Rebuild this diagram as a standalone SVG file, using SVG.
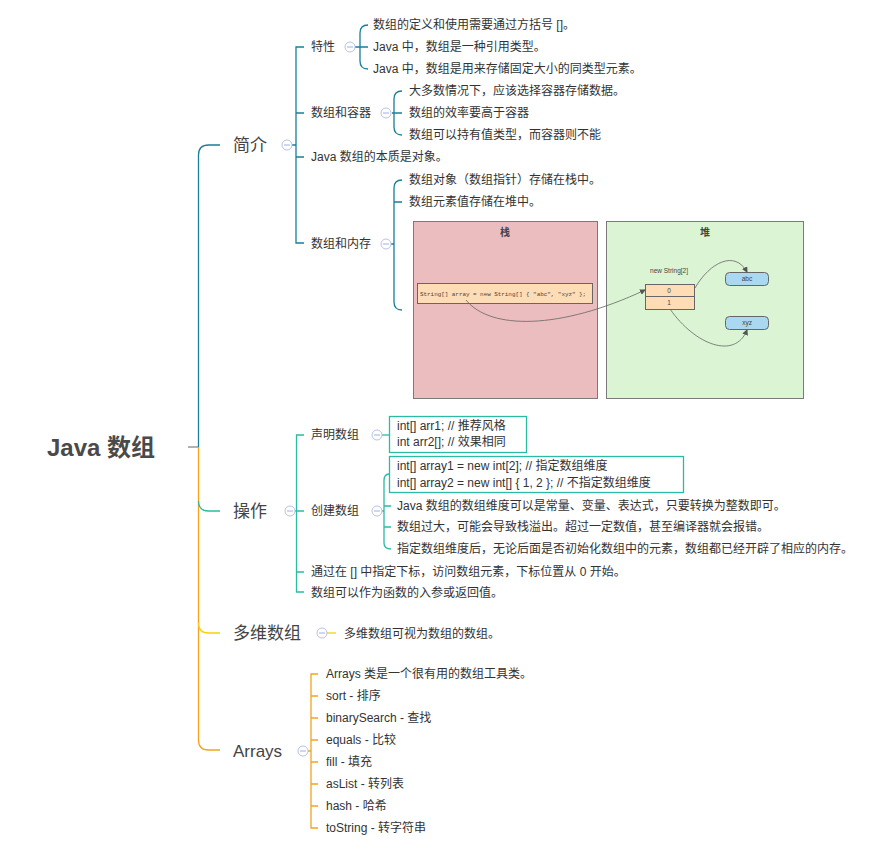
<svg xmlns="http://www.w3.org/2000/svg" width="879" height="854" viewBox="0 0 879 854">
<style>
text{font-family:"Liberation Sans","Noto Sans CJK SC",sans-serif;fill:#333;}
.t{font-size:12px;}
.l1{font-size:17px;fill:#444;}
.root{font-size:24px;font-weight:bold;fill:#4a4a4a;}
.c1{fill:none;stroke:#177f98;stroke-width:1.3;}
.c2{fill:none;stroke:#2bbba3;stroke-width:1.3;}
.cy{fill:none;stroke:#f3d20c;stroke-width:1.3;}
.co{fill:none;stroke:#f5a31f;stroke-width:1.3;}
.col circle{fill:#fff;stroke:#b7c3e6;stroke-width:1;}
.col line{stroke:#9fb0da;stroke-width:1;}
.box{fill:#fff;stroke:#2bbba3;stroke-width:1.3;}
.small{font-size:6.5px;fill:#444;}
.code{font-family:"Liberation Mono",monospace;font-size:5.9px;fill:#444;}
</style>
<defs>
<marker id="ah" markerWidth="6" markerHeight="6" refX="5" refY="3" orient="auto" markerUnits="userSpaceOnUse"><path d="M0,0 L6,3 L0,6 Z" fill="#555"/></marker>
<g id="minus" class="col"><circle r="5"/><line x1="-3" y1="0" x2="3" y2="0"/></g>
</defs>

<g id="connectors">
<path d="M188,447 H198.5" stroke="#888" stroke-width="1.3" fill="none"/>
<path class="c1" d="M198.5,447 V155 Q198.5,145 208.5,145 H220"/>
<path class="co" d="M198.5,447 V740 Q198.5,750 208.5,750 H220"/>
<path class="c2" d="M198.5,501 Q198.5,511 208.5,511 H220"/>
<path class="cy" d="M198.5,623 Q198.5,633 208.5,633 H220"/>
<!-- 简介 -->
<path class="c1" d="M292,145 H296 M304,47 H296 V243 H304 M296,113 H304 M296,157 H304"/>
<path class="c1" d="M355,47 H360 M368,25 Q360,25 360,33 V61 Q360,69 368,69 M360,47 H368"/>
<path class="c1" d="M392,113 H394 M402,91 Q394,91 394,99 V127 Q394,135 402,135 M394,113 H402"/>
<path class="c1" d="M391,244 H394 M402,180 Q394,180 394,188 V302 Q394,310 402,310 M394,202 H402"/>
<!-- 操作 -->
<path class="c2" d="M295,511 H296.5 M304,435 H296.5 V592 H304 M296.5,511 H304 M296.5,572 H304"/>
<path class="c2" d="M382,435 H389"/>
<path class="c2" d="M382,511 H384 M389,474 Q384,474 384,481 V543 Q384,549 391,549 M384,506 H391 M384,527 H391"/>
<!-- 多维数组 -->
<path class="cy" d="M327,633 H336"/>
<!-- Arrays -->
<path class="co" d="M308,751 H311 M318,674 H311 V828 H318 M311,696 H318 M311,718 H318 M311,740 H318 M311,762 H318 M311,784 H318 M311,806 H318"/>
</g>

<g id="root"><text class="root" x="47" y="456">Java 数组</text></g>

<g id="jianjie">
<text class="l1" x="233" y="151">简介</text>
<use href="#minus" x="287" y="145"/>
</g>
<g id="texing">
<text class="t" x="311" y="51">特性</text>
<use href="#minus" x="350" y="47"/>
<text class="t" x="373" y="29">数组的定义和使用需要通过方括号 []。</text>
<text class="t" x="373" y="51">Java 中，数组是一种引用类型。</text>
<text class="t" x="373" y="73">Java 中，数组是用来存储固定大小的同类型元素。</text>
</g>
<g id="rongqi">
<text class="t" x="311" y="117">数组和容器</text>
<use href="#minus" x="386" y="113"/>
<text class="t" x="409" y="95">大多数情况下，应该选择容器存储数据。</text>
<text class="t" x="409" y="117">数组的效率要高于容器</text>
<text class="t" x="409" y="139">数组可以持有值类型，而容器则不能</text>
</g>
<g id="benzhi"><text class="t" x="311" y="161">Java 数组的本质是对象。</text></g>
<g id="neicun">
<text class="t" x="311" y="248">数组和内存</text>
<use href="#minus" x="386" y="244"/>
<text class="t" x="409" y="184">数组对象（数组指针）存储在栈中。</text>
<text class="t" x="409" y="206">数组元素值存储在堆中。</text>
</g>
<g id="memory-figure">
<rect x="413.5" y="221.5" width="184" height="177" fill="#ebbdbe" stroke="#7a7a7a"/>
<rect x="606.5" y="221.5" width="197" height="177" fill="#dbf4d3" stroke="#7a7a7a"/>
<text x="505" y="236" text-anchor="middle" style="font-size:10px;font-weight:bold;fill:#444">栈</text>
<text x="705" y="236" text-anchor="middle" style="font-size:10px;font-weight:bold;fill:#444">堆</text>
<rect x="417.5" y="283.5" width="175" height="20" fill="#fddcb6" stroke="#666"/>
<text class="code" x="420" y="296">String[] array = new String[] { "abc", "xyz" };</text>
<text class="small" x="669" y="273" text-anchor="middle">new String[2]</text>
<rect x="645.5" y="284.5" width="49" height="12" fill="#fddcb6" stroke="#666"/>
<rect x="645.5" y="296.5" width="49" height="13" fill="#fddcb6" stroke="#666"/>
<text class="small" x="669" y="293" text-anchor="middle">0</text>
<text class="small" x="669" y="305" text-anchor="middle">1</text>
<rect x="725.5" y="272.5" width="43" height="13" rx="4" fill="#a9d8f0" stroke="#666"/>
<rect x="725.5" y="316.5" width="43" height="13" rx="4" fill="#a9d8f0" stroke="#666"/>
<text class="small" x="747" y="281" text-anchor="middle">abc</text>
<text class="small" x="747" y="325" text-anchor="middle">xyz</text>
<g fill="none" stroke="#666" stroke-width="0.8" marker-end="url(#ah)">
<path d="M466,300 C490,330 560,330 645,290"/>
<path d="M695,288 C710,262 735,250 747,272"/>
<path d="M670,309 C695,345 735,360 747,330"/>
</g>
</g>

<g id="caozuo">
<text class="l1" x="233" y="517">操作</text>
<use href="#minus" x="290" y="511"/>
</g>
<g id="shengming">
<text class="t" x="311" y="439">声明数组</text>
<use href="#minus" x="377" y="435"/>
<rect class="box" x="389.5" y="416.5" width="137" height="36"/>
<text class="t" x="397" y="430">int[] arr1; // 推荐风格</text>
<text class="t" x="397" y="446">int arr2[]; // 效果相同</text>
</g>
<g id="chuangjian">
<text class="t" x="311" y="515">创建数组</text>
<use href="#minus" x="377" y="511"/>
<rect class="box" x="389.5" y="456.5" width="294" height="36"/>
<text class="t" x="397" y="470">int[] array1 = new int[2]; // 指定数组维度</text>
<text class="t" x="397" y="487">int[] array2 = new int[] { 1, 2 }; // 不指定数组维度</text>
<text class="t" x="397" y="510">Java 数组的数组维度可以是常量、变量、表达式，只要转换为整数即可。</text>
<text class="t" x="397" y="531">数组过大，可能会导致栈溢出。超过一定数值，甚至编译器就会报错。</text>
<text class="t" x="397" y="553">指定数组维度后，无论后面是否初始化数组中的元素，数组都已经开辟了相应的内存。</text>
</g>
<g id="xiabiao"><text class="t" x="311" y="576">通过在 [] 中指定下标，访问数组元素，下标位置从 0 开始。</text></g>
<g id="rucan"><text class="t" x="311" y="597">数组可以作为函数的入参或返回值。</text></g>

<g id="duowei">
<text class="l1" x="233" y="639">多维数组</text>
<use href="#minus" x="322" y="633"/>
<text class="t" x="344" y="638">多维数组可视为数组的数组。</text>
</g>

<g id="arrays">
<text class="l1" x="233" y="757">Arrays</text>
<use href="#minus" x="303" y="751"/>
<text class="t" x="326" y="678">Arrays 类是一个很有用的数组工具类。</text>
<text class="t" x="326" y="700">sort - 排序</text>
<text class="t" x="326" y="722">binarySearch - 查找</text>
<text class="t" x="326" y="744">equals - 比较</text>
<text class="t" x="326" y="766">fill - 填充</text>
<text class="t" x="326" y="788">asList - 转列表</text>
<text class="t" x="326" y="810">hash - 哈希</text>
<text class="t" x="326" y="832">toString - 转字符串</text>
</g>
</svg>
